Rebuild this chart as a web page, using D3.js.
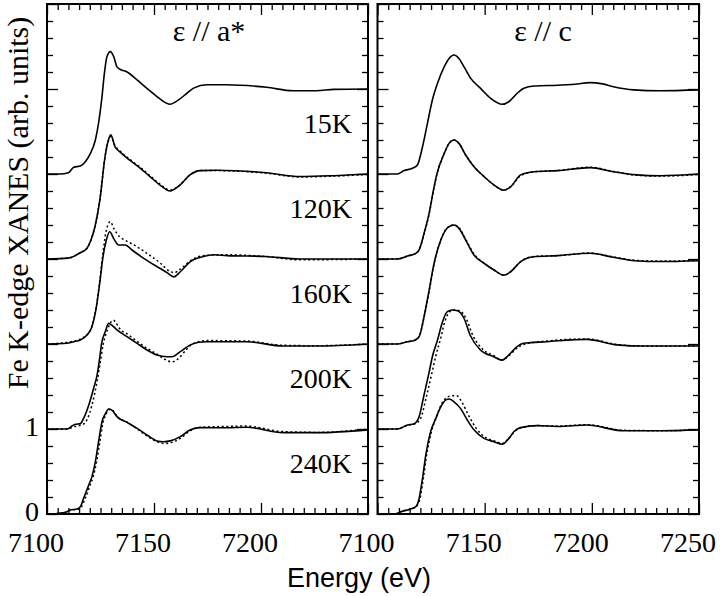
<!DOCTYPE html>
<html><head><meta charset="utf-8">
<script src="https://cdn.jsdelivr.net/npm/d3@7"></script>
<style>body{margin:0;background:#fff}</style>
</head><body>
<svg id="c" width="720" height="596"></svg>
<script>
// ---------------- data ----------------
const temps = ["15K","120K","160K","200K","240K"];
const offsets = [4,3,2,1,0];
const panelTitles = ["ε // a*","ε // c"];
const xMajorTicks = [7100,7150,7200,7250];
const yLabelTicks = [0,1];

// ε // a*  (normalized absorption, before vertical offset)
const a15 = [[7100,0],[7106,0],[7110,0.016],[7112.5,0.08],[7115.6,0.094],[7117.9,0.145],[7120.3,0.243],[7122.6,0.40],[7124.1,0.60],[7125.7,0.91],[7126.8,1.18],[7128,1.38],[7129.6,1.44],[7131.2,1.38],[7132.7,1.26],[7134.3,1.23],[7137.4,1.20],[7142.1,1.106],[7146.7,1.008],[7151.4,0.91],[7155.3,0.84],[7157.6,0.82],[7160.8,0.86],[7165.4,0.95],[7168.5,1.01],[7174.8,1.05],[7184,1.05],[7202.6,1.02],[7215,0.98],[7226,0.98],[7234,0.996],[7250,1.0]];
const a120 = [[7100,0],[7110,0.01],[7111.5,0.02],[7113.9,0.05],[7116,0.08],[7118.5,0.12],[7120.5,0.22],[7122.4,0.38],[7124.8,0.71],[7127.1,1.2],[7128.7,1.40],[7129.8,1.46],[7131.8,1.32],[7134.1,1.26],[7138.8,1.16],[7143.5,1.07],[7148.1,0.97],[7152.8,0.87],[7157.5,0.80],[7162.1,0.87],[7166.8,0.99],[7171.5,1.04],[7179.3,1.045],[7202.6,1.015],[7218.2,0.97],[7233.6,0.98],[7250,1.0]];
const a120d = [[7100,0],[7110,0.01],[7113.9,0.05],[7116,0.08],[7118.5,0.12],[7120.5,0.22],[7122.4,0.38],[7124.8,0.72],[7127.1,1.2],[7128.7,1.39],[7129.8,1.44],[7131.8,1.33],[7134.1,1.27],[7138.8,1.17],[7143.5,1.08],[7148.1,0.98],[7152.8,0.88],[7157.5,0.81],[7162.1,0.87],[7166.8,0.99],[7171.5,1.04],[7179.3,1.04],[7202.6,1.01],[7218.2,0.965],[7233.6,0.975],[7250,0.995]];
const a160 = [[7100,0],[7109.3,0.008],[7112.5,0.027],[7115.6,0.047],[7118.7,0.106],[7121,0.204],[7123.1,0.44],[7124.6,0.71],[7126.2,1.03],[7127.7,1.22],[7129.3,1.32],[7131.2,1.24],[7133.5,1.165],[7136.6,1.165],[7139.7,1.106],[7145.2,1.008],[7151.4,0.91],[7156.1,0.84],[7159.2,0.79],[7162.3,0.85],[7167,0.97],[7173.2,1.03],[7177.9,1.05],[7184.1,1.04],[7202,1.03],[7218,1.0],[7250,1.0]];
const a160d = [[7100,0],[7112,0.03],[7118.7,0.11],[7121,0.21],[7123.1,0.45],[7124.6,0.73],[7126.2,1.08],[7127.7,1.34],[7129.6,1.44],[7131.2,1.36],[7134,1.26],[7136.6,1.22],[7142,1.145],[7146.7,1.067],[7153,0.95],[7157,0.86],[7159.5,0.84],[7162.3,0.88],[7167,0.98],[7173.2,1.04],[7184,1.05],[7202,1.03],[7218,0.99],[7250,1.0]];
const a200 = [[7100,0],[7109.3,0],[7111.7,0.035],[7113.2,0.055],[7115.6,0.063],[7117.1,0.125],[7119.5,0.28],[7121.8,0.48],[7123.4,0.635],[7124.6,0.83],[7125.4,0.99],[7127.3,1.15],[7128.8,1.243],[7130.4,1.22],[7132.7,1.165],[7137.4,1.086],[7142.1,1.008],[7146.7,0.93],[7151.4,0.87],[7156.1,0.85],[7158.4,0.85],[7162.3,0.91],[7167,0.99],[7171,1.02],[7174.6,1.027],[7193.3,1.027],[7210.4,0.976],[7226,0.976],[7250,1.0]];
const a200d = [[7100,0],[7109.3,0],[7113,0.03],[7116.5,0.05],[7118.7,0.11],[7121,0.28],[7123.4,0.56],[7125,0.80],[7126.2,0.99],[7128,1.15],[7131,1.28],[7133,1.22],[7134,1.18],[7138,1.11],[7142.1,1.03],[7146.7,0.95],[7151.4,0.88],[7155,0.82],[7158.3,0.79],[7161,0.82],[7165,0.93],[7168,1.0],[7174.6,1.04],[7193.3,1.035],[7210,0.985],[7226,0.98],[7250,1.0]];
const a240 = [[7100,-0.05],[7104,0],[7108.6,0.02],[7110.9,0.047],[7114,0.059],[7115.6,0.086],[7117.1,0.184],[7119.5,0.34],[7121,0.44],[7122.6,0.616],[7124.1,0.85],[7125.7,1.086],[7127.3,1.18],[7128.8,1.235],[7130.4,1.22],[7132.7,1.145],[7137.4,1.078],[7142.1,1.008],[7146.7,0.93],[7151.4,0.86],[7154.5,0.85],[7157.6,0.86],[7162.3,0.91],[7167,0.99],[7171.7,1.016],[7184.1,1.015],[7193.3,1.02],[7210.4,0.957],[7226,0.957],[7250,0.99]];
const a240d = [[7100,-0.05],[7105,0],[7109,0.02],[7111,0.045],[7114.5,0.055],[7116,0.08],[7117.8,0.18],[7120,0.33],[7121.6,0.44],[7123.2,0.62],[7124.7,0.85],[7126.2,1.08],[7127.7,1.18],[7129,1.23],[7130.6,1.22],[7133,1.14],[7137.4,1.08],[7142.1,1.0],[7146.7,0.92],[7151.4,0.85],[7155,0.83],[7158,0.84],[7162.3,0.89],[7167,0.98],[7171.7,1.02],[7184,1.03],[7193,1.035],[7210,0.97],[7226,0.96],[7250,1.0]];

// ε // c
const c15 = [[7100,0],[7109.3,0],[7112.4,0.04],[7116.3,0.067],[7118.6,0.106],[7121,0.32],[7123.3,0.596],[7125.6,0.87],[7128,1.067],[7131.1,1.26],[7133.4,1.36],[7135.7,1.40],[7138,1.36],[7140.4,1.26],[7143.5,1.125],[7148.1,1.008],[7152.8,0.89],[7158.2,0.82],[7161.3,0.85],[7165.2,0.95],[7168.3,1.008],[7173,1.035],[7184,1.045],[7192,1.055],[7199.2,1.075],[7205,1.06],[7210.1,1.027],[7219.4,0.99],[7231.8,0.98],[7250,0.99]];
const c120 = [[7100,0],[7109.3,0],[7114,0.035],[7117.9,0.067],[7119.4,0.106],[7121.7,0.30],[7124.1,0.54],[7126.1,0.81],[7127.6,0.99],[7131.1,1.24],[7133.4,1.36],[7135.7,1.40],[7138,1.36],[7141.2,1.22],[7145,1.086],[7149.7,0.97],[7154.4,0.87],[7159,0.81],[7162.1,0.85],[7166.8,0.99],[7173,1.027],[7184,1.04],[7199.2,1.075],[7210,1.027],[7220.9,0.99],[7232,0.98],[7250,1.0]];
const c120d = [[7100,0],[7109.3,0],[7114,0.035],[7117.9,0.067],[7119.4,0.106],[7121.7,0.29],[7124.1,0.53],[7126.1,0.80],[7127.6,0.98],[7131.1,1.24],[7133.4,1.36],[7135.7,1.40],[7138,1.36],[7141.2,1.22],[7145,1.09],[7149.7,0.97],[7154.4,0.87],[7159,0.81],[7162.1,0.85],[7166.8,0.98],[7173,1.025],[7184,1.04],[7199.2,1.08],[7210,1.03],[7220.9,0.985],[7232,0.975],[7250,0.995]];
const c160 = [[7100,0],[7109.3,0],[7114,0.027],[7117.1,0.04],[7119.4,0.086],[7121.7,0.32],[7124.1,0.635],[7126.4,0.95],[7129.5,1.22],[7132.6,1.365],[7135.7,1.40],[7138,1.36],[7141.2,1.22],[7145,1.047],[7149.7,0.95],[7154.4,0.87],[7159,0.81],[7162.1,0.85],[7166.8,0.97],[7173,1.027],[7184,1.04],[7199.2,1.067],[7210,1.02],[7220,0.98],[7232,0.97],[7250,0.98]];
const c160d = [[7100,0],[7109.3,0],[7114,0.027],[7117.1,0.04],[7119.4,0.086],[7121.7,0.31],[7124.1,0.62],[7126.4,0.94],[7129.5,1.22],[7132.6,1.37],[7135.7,1.40],[7138,1.37],[7141.2,1.23],[7145,1.06],[7149.7,0.95],[7154.4,0.87],[7159,0.81],[7162.1,0.85],[7166.8,0.97],[7173,1.03],[7184,1.04],[7199.2,1.07],[7210,1.025],[7220,0.985],[7232,0.975],[7250,0.985]];
const c200 = [[7100,0],[7109.3,0],[7114,0.047],[7117.1,0.063],[7119.4,0.145],[7121.7,0.4],[7124.1,0.67],[7125.6,0.85],[7128,1.047],[7130.3,1.26],[7132.6,1.38],[7134.9,1.40],[7137.3,1.39],[7140.4,1.30],[7143.3,1.1],[7148,0.93],[7154.2,0.85],[7158.1,0.81],[7161.2,0.87],[7165.1,0.97],[7168.1,1.008],[7179,1.027],[7197.7,1.055],[7211.7,0.99],[7224,0.976],[7250,0.976]];
const c200d = [[7100,0],[7109.3,0],[7114,0.045],[7117.5,0.06],[7120.2,0.13],[7122.8,0.38],[7125.4,0.66],[7127.2,0.86],[7129.5,1.07],[7131.5,1.27],[7133.8,1.38],[7136,1.40],[7138.5,1.39],[7141.5,1.29],[7144.5,1.1],[7149,0.94],[7154.5,0.86],[7158.1,0.81],[7161.2,0.86],[7165.5,0.96],[7169,1.0],[7179,1.035],[7197.7,1.06],[7211.7,0.995],[7224,0.976],[7250,0.98]];
const c240 = [[7100,-0.05],[7104,-0.02],[7108.5,0],[7110.9,0.027],[7115.5,0.059],[7117.9,0.086],[7119.4,0.18],[7121,0.42],[7122.5,0.69],[7124.8,0.97],[7127.2,1.125],[7129.5,1.26],[7131.8,1.34],[7133.4,1.353],[7135.7,1.32],[7138.8,1.24],[7141.9,1.106],[7145,0.99],[7149.7,0.89],[7154.4,0.85],[7158.2,0.82],[7161.3,0.89],[7163.7,0.97],[7166.8,1.016],[7174.5,1.04],[7184,1.03],[7197.7,1.047],[7214.7,0.98],[7232,0.98],[7250,0.99]];
const c240d = [[7100,-0.05],[7104,-0.02],[7108.5,0],[7111,0.03],[7115.5,0.06],[7118,0.09],[7119.8,0.18],[7121.4,0.42],[7122.9,0.69],[7125.2,0.97],[7127.6,1.15],[7130,1.30],[7132.3,1.37],[7134.5,1.39],[7137,1.39],[7139.5,1.31],[7142.5,1.16],[7146,1.01],[7150.5,0.9],[7155,0.855],[7158.2,0.83],[7161.3,0.89],[7164,0.97],[7167,1.016],[7174.5,1.04],[7184,1.035],[7197.7,1.05],[7214.7,0.985],[7232,0.98],[7250,0.99]];

const solidA = [a15,a120,a160,a200,a240];
const dottedA = [null,a120d,a160d,a200d,a240d];
const solidC = [c15,c120,c160,c200,c240];
const dottedC = [null,c120d,c160d,c200d,c240d];

// ---------------- drawing ----------------
const svg = d3.select("#c");
const yTop = 4, yBot = 514;
const y = d3.scaleLinear().domain([0,6]).range([yBot, yTop]);
const serif = "'Liberation Serif','Times New Roman',serif";

const panels = [
  {title: panelTitles[0], solid: solidA, dotted: dottedA, x0: 47, x1: 368, titleX: 209, showTemps: true, xLabels: [7100,7150,7200]},
  {title: panelTitles[1], solid: solidC, dotted: dottedC, x0: 377.5, x1: 699, titleX: 543, showTemps: false, xLabels: [7100,7150,7200,7250]}
];

const minorX = d3.range(7100, 7250.01, 5).filter(v => v % 50 !== 0);
const minorY = d3.range(0, 6.01, 0.2).map(v => +v.toFixed(1)).filter(v => Math.abs(v - Math.round(v)) > 1e-6);
const majorY = [0,1,2,3,4,5,6];

panels.forEach((p, pi) => {
  const x = d3.scaleLinear().domain([7100,7250]).range([p.x0, p.x1]);
  const g = svg.append("g");
  const clipId = "clip" + pi;
  svg.append("clipPath").attr("id", clipId).append("rect")
    .attr("x", p.x0).attr("y", yTop).attr("width", p.x1 - p.x0).attr("height", yBot - yTop);

  const tickStyle = sel => { sel.select(".domain").remove(); sel.selectAll("line").attr("stroke","#000").attr("stroke-width",1.3); };

  g.append("g").attr("transform",`translate(0,${yBot})`).call(d3.axisBottom(x).tickValues(minorX).tickSize(-6).tickFormat("")).call(tickStyle);
  g.append("g").attr("transform",`translate(0,${yBot})`).call(d3.axisBottom(x).tickValues(xMajorTicks).tickSize(-11).tickFormat("")).call(tickStyle);
  g.append("g").attr("transform",`translate(0,${yTop})`).call(d3.axisTop(x).tickValues(minorX).tickSize(-6).tickFormat("")).call(tickStyle);
  g.append("g").attr("transform",`translate(0,${yTop})`).call(d3.axisTop(x).tickValues(xMajorTicks).tickSize(-11).tickFormat("")).call(tickStyle);
  g.append("g").attr("transform",`translate(${p.x0},0)`).call(d3.axisLeft(y).tickValues(minorY).tickSize(-6).tickFormat("")).call(tickStyle);
  g.append("g").attr("transform",`translate(${p.x0},0)`).call(d3.axisLeft(y).tickValues(majorY).tickSize(-11).tickFormat("")).call(tickStyle);
  g.append("g").attr("transform",`translate(${p.x1},0)`).call(d3.axisRight(y).tickValues(minorY).tickSize(-6).tickFormat("")).call(tickStyle);
  g.append("g").attr("transform",`translate(${p.x1},0)`).call(d3.axisRight(y).tickValues(majorY).tickSize(-11).tickFormat("")).call(tickStyle);

  g.selectAll("text.xl").data(p.xLabels).join("text").attr("class","xl")
    .attr("x", d => x(d) - 11).attr("y", 552).attr("text-anchor","middle")
    .attr("font-family", serif).attr("font-size", 28).text(d => d);

  const line = d3.line().x(d => x(d[0])).y(d => y(d[1])).curve(d3.curveMonotoneX);
  const cg = g.append("g").attr("clip-path", `url(#${clipId})`);
  p.dotted.forEach((arr, i) => {
    if (!arr) return;
    cg.append("path").datum(arr.map(d => [d[0], d[1] + offsets[i]]))
      .attr("d", line).attr("fill","none").attr("stroke","#000")
      .attr("stroke-width",1.5).attr("stroke-dasharray","2,2.6");
  });
  p.solid.forEach((arr, i) => {
    cg.append("path").datum(arr.map(d => [d[0], d[1] + offsets[i]]))
      .attr("d", line).attr("fill","none").attr("stroke","#000").attr("stroke-width",1.6);
  });

  g.append("rect").attr("x", p.x0).attr("y", yTop).attr("width", p.x1 - p.x0).attr("height", yBot - yTop)
    .attr("fill","none").attr("stroke","#000").attr("stroke-width",2);

  g.append("text").attr("x", p.titleX).attr("y", 41).attr("text-anchor","middle")
    .attr("font-family", serif).attr("font-size", 30).style("white-space","pre").text(p.title);

  if (p.showTemps) {
    g.selectAll("text.tl").data(temps).join("text").attr("class","tl")
      .attr("x", 352).attr("y", (d,i) => y(offsets[i] + 0.48)).attr("text-anchor","end")
      .attr("font-family", serif).attr("font-size", 28).text(d => d);
  }
});

svg.selectAll("text.yl").data(yLabelTicks).join("text").attr("class","yl")
  .attr("x", 39).attr("y", d => y(d) + 7).attr("text-anchor","end")
  .attr("font-family", serif).attr("font-size", 28).text(d => d);

svg.append("text").attr("transform","translate(28,203) rotate(-90)").attr("text-anchor","middle")
  .attr("font-family", serif).attr("font-size", 30).text("Fe K-edge XANES (arb. units)");
svg.append("text").attr("x", 359).attr("y", 587).attr("text-anchor","middle")
  .attr("font-family", "'Liberation Sans',Arial,sans-serif").attr("font-size", 27).text("Energy (eV)");
</script>
</body></html>
